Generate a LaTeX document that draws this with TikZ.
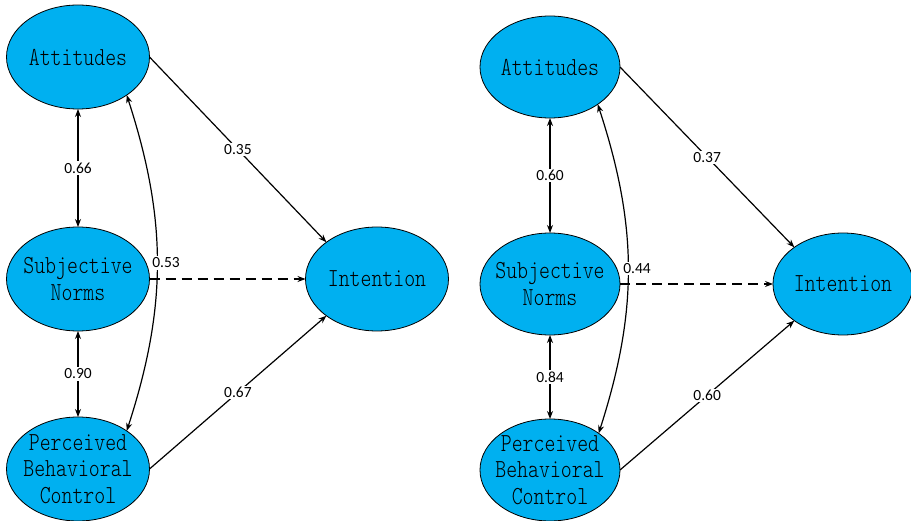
\documentclass[tikz,border=0pt]{standalone}
\usepackage{fontspec}
\usetikzlibrary{arrows.meta,shapes.geometric}
\newfontfamily\latentfont{Latin Modern Mono Light}[FakeStretch=0.8]
\newfontfamily\coeffont{Carlito}
\definecolor{latentblue}{HTML}{00B0F0}

\tikzset{
  latent/.style={ellipse, draw, fill=latentblue, line width=0.8pt,
    inner sep=-12pt, outer sep=0pt, align=center,
    minimum width=143pt, minimum height=104pt,
    font=\latentfont\fontsize{26}{26.5}\selectfont},
  coef/.style={fill=white, inner sep=1.5pt,
    font=\coeffont\fontsize{15.5}{15.5}\selectfont},
  link/.style={line width=1.2pt},
}

\begin{document}
\begin{tikzpicture}[x=1pt, y=1pt, >={Stealth[length=8pt,width=6pt]}]
  \useasboundingbox (0,-521) rectangle (911,0);
  % Left model
  \node[latent] (attL) at (78,-57) {Attitudes};
  \node[latent] (snL) at (78,-279) {Subjective\\Norms};
  \node[latent] (pbcL) at (78,-469) {Perceived\\Behavioral\\Control};
  \node[latent] (intL) at (377,-279) {Intention};
  % Paths
  \draw[link,->] (attL.east) -- (intL.144) node[coef,midway]{0.35};
  \draw[link,->,dash pattern=on 10pt off 6pt] (snL.east) -- (intL.west);
  \draw[link,->] (pbcL.east) -- (intL.216) node[coef,midway]{0.67};
  % Correlations
  \draw[link,<->] (attL.south) -- (snL.north) node[coef,midway]{0.66};
  \draw[link,<->] (snL.south) -- (pbcL.north) node[coef,midway]{0.90};
  \draw[link,<->] (attL.-38) to[bend left=18]
    node[coef,pos=0.5,xshift=9pt]{0.53} (pbcL.38);

  % Right model
  \begin{scope}[latent/.append style={minimum width=140pt, minimum height=102pt}]
    \node[latent] (attR) at (550,-67) {Attitudes};
    \node[latent] (snR) at (550,-284) {Subjective\\Norms};
    \node[latent] (pbcR) at (550,-470) {Perceived\\Behavioral\\Control};
    \node[latent] (intR) at (843,-284) {Intention};
  \end{scope}
  % Paths
  \draw[link,->] (attR.east) -- (intR.143) node[coef,midway]{0.37};
  \draw[link,->,dash pattern=on 10pt off 6pt] (snR.east) -- (intR.west);
  \draw[link,->] (pbcR.east) -- (intR.217) node[coef,midway]{0.60};
  % Correlations
  \draw[link,<->] (attR.south) -- (snR.north) node[coef,midway]{0.60};
  \draw[link,<->] (snR.south) -- (pbcR.north) node[coef,midway]{0.84};
  \draw[link,<->] (attR.-38) to[bend left=18]
    node[coef,pos=0.5,xshift=9pt]{0.44} (pbcR.37);
\end{tikzpicture}
\end{document}
